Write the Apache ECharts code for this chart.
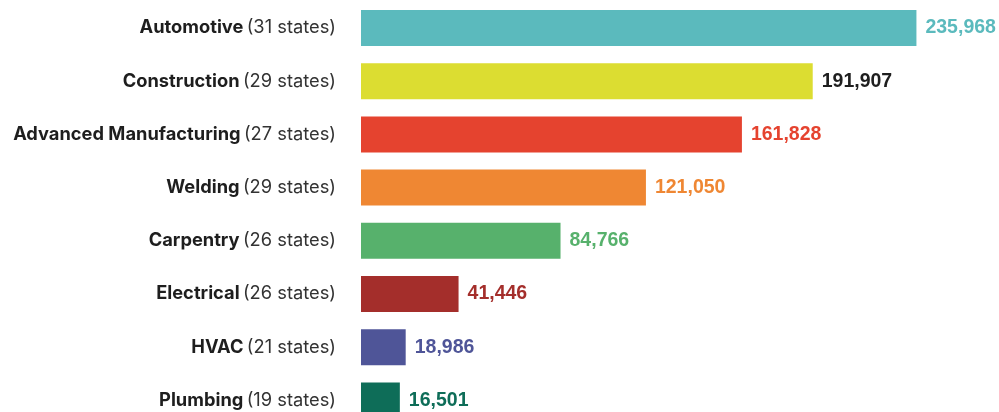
<!DOCTYPE html>
<html><head><meta charset="utf-8">
<script src="https://cdn.jsdelivr.net/npm/echarts@6/dist/echarts.min.js"></script>
<style>html,body{margin:0;padding:0;background:#fff}#c{width:999px;height:412px}</style>
</head><body><div id="c"></div>
<script>
const names = ["Automotive","Construction","Advanced Manufacturing","Welding","Carpentry","Electrical","HVAC","Plumbing"];
const states = [31,29,27,29,26,26,21,19];
const values = [235968,191907,161828,121050,84766,41446,18986,16501];
const barColors = ["#5BBABD","#DCDD31","#E5432F","#EF8733","#57B16C","#A42E2B","#4F5598","#0E6D58"];
const labelColors = ["#5BBABD","#1E1E1E","#E5432F","#EF8733","#57B16C","#A42E2B","#4F5598","#0E6D58"];

const chart = echarts.init(document.getElementById('c'), null, {renderer:'canvas'});
const cats = names.map((n,i)=>n+'|'+states[i]);
chart.setOption({
  animation:false,
  grid:{left:361, width:612, top:1.4, height:425.6, containLabel:false, outerBoundsMode:'none'},
  xAxis:{type:'value', min:0, max:260000, show:false},
  yAxis:{type:'category', inverse:true, data:cats,
    axisLine:{show:false}, axisTick:{show:false},
    axisLabel:{margin:25, formatter:function(v){const p=v.split('|');return '{b|'+p[0]+'} {n|('+p[1]+' states)}';},
      rich:{b:{fontFamily:'Inter',fontWeight:'bold',fontSize:18.3,color:'#1E1E1E'},
            n:{fontFamily:'Inter',fontWeight:'normal',fontSize:18.3,color:'#333333'}}}},
  series:[{type:'bar', barWidth:36,
    data: values.map((v,i)=>({value:v, itemStyle:{color:barColors[i]}, label:{color:labelColors[i]}})),
    label:{show:true, position:'right', distance:9, fontFamily:'"Liberation Sans",Arial,sans-serif', fontWeight:'bold', fontSize:19.5,
      formatter:function(p){return p.value.toLocaleString('en-US');}}
  }]
});
</script></body></html>
